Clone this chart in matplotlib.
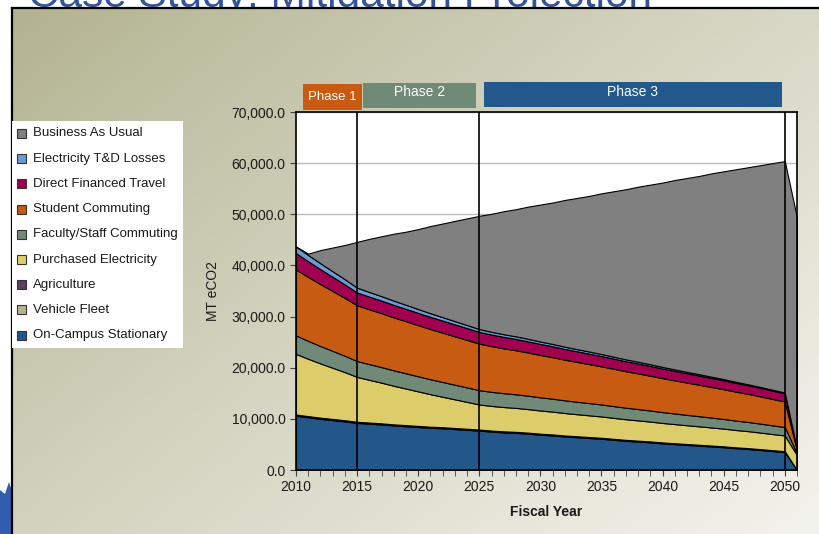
import numpy as np
import matplotlib
matplotlib.use("Agg")
import matplotlib.pyplot as plt
from matplotlib.patches import Rectangle, Polygon
from matplotlib.ticker import FuncFormatter, MultipleLocator

plt.rcParams['font.family'] = ['Liberation Sans', 'DejaVu Sans']

# ---- data (MT eCO2 per fiscal year, 2010-2051) ----
years = list(range(2010, 2052))

on_campus = [10600, 10300, 10000, 9750, 9500, 9200, 9050, 8900, 8700, 8550,
             8400, 8250, 8150, 8000, 7850, 7700, 7500, 7350, 7250, 7100,
             6900, 6750, 6550, 6400, 6250, 6100, 5900, 5700, 5550, 5400,
             5200, 5050, 4900, 4750, 4600, 4450, 4250, 4100, 3900, 3700,
             3500, 0]
vehicle_fleet = [180, 180, 175, 175, 170, 170, 170, 165, 165, 165,
                 160, 160, 160, 155, 155, 155, 150, 150, 150, 145,
                 145, 145, 140, 140, 140, 135, 135, 135, 130, 130,
                 130, 125, 125, 125, 125, 120, 120, 120, 120, 120,
                 120, 0]
agriculture = [60, 60, 60, 60, 60, 60, 60, 60, 60, 60,
               60, 60, 60, 60, 60, 60, 60, 60, 60, 60,
               60, 60, 60, 60, 60, 60, 60, 60, 60, 60,
               60, 60, 60, 60, 60, 60, 60, 60, 60, 60,
               60, 0]
purchased_elec = [11860, 11200, 10600, 10000, 9400, 8770, 8350, 7950, 7550, 7150,
                  6750, 6350, 5950, 5600, 5250, 4890, 4820, 4750, 4680, 4600,
                  4530, 4460, 4390, 4310, 4240, 4170, 4100, 4030, 3960, 3880,
                  3810, 3740, 3670, 3600, 3530, 3460, 3390, 3320, 3240, 3150,
                  3070, 2900]
faculty_staff = [3600, 3500, 3400, 3300, 3200, 3100, 3070, 3040, 3010, 2980,
                 2950, 2920, 2890, 2860, 2830, 2800, 2750, 2710, 2660, 2620,
                 2570, 2530, 2480, 2430, 2390, 2340, 2300, 2250, 2210, 2160,
                 2120, 2070, 2020, 1980, 1930, 1890, 1840, 1790, 1750, 1700,
                 1650, 300]
student = [12900, 12500, 12100, 11700, 11300, 10900, 10720, 10540, 10360, 10180,
           10000, 9820, 9640, 9460, 9280, 9100, 8940, 8770, 8610, 8440,
           8280, 8120, 7950, 7790, 7620, 7460, 7300, 7130, 6970, 6800,
           6640, 6480, 6310, 6150, 5980, 5820, 5660, 5490, 5330, 5160,
           5000, 600]
travel = [3200, 3060, 2920, 2780, 2640, 2500, 2480, 2460, 2440, 2420,
          2400, 2380, 2360, 2340, 2320, 2300, 2270, 2240, 2220, 2190,
          2160, 2130, 2100, 2080, 2050, 2020, 1990, 1960, 1940, 1910,
          1880, 1850, 1820, 1800, 1770, 1740, 1710, 1680, 1660, 1630,
          1600, 200]
td_losses = [1300, 1230, 1160, 1090, 1020, 950, 910, 870, 830, 790,
             750, 710, 670, 630, 590, 550, 530, 520, 500, 490,
             470, 450, 440, 420, 410, 390, 370, 360, 340, 330,
             310, 290, 280, 260, 250, 230, 210, 200, 180, 170,
             150, 50]
# business-as-usual total emissions
bau_total = [43700, 42300, 43000, 43500, 44000, 44600, 45200, 45700, 46200, 46600,
             47100, 47700, 48200, 48700, 49200, 49700, 50100, 50600, 51000, 51500,
             51900, 52300, 52800, 53200, 53600, 54100, 54500, 54900, 55400, 55800,
             56200, 56700, 57100, 57500, 58000, 58400, 58800, 59200, 59600, 60000,
             60400, 49300]

labels = ["On-Campus Stationary", "Vehicle Fleet", "Agriculture",
          "Purchased Electricity", "Faculty/Staff Commuting", "Student Commuting",
          "Direct Financed Travel", "Electricity T&D Losses", "Business As Usual"]
colors = ["#23578A", "#B3B48D", "#5E3C5C", "#DDCD6A", "#718A78",
          "#C75B12", "#A0004F", "#6B9BD1", "#808080"]

phases = ["Phase 1", "Phase 2", "Phase 3"]
phase_colors = ["#C85A12", "#718A78", "#23588C"]
phase_lines = [2015, 2025, 2050]

layers = [on_campus, vehicle_fleet, agriculture, purchased_elec, faculty_staff,
          student, travel, td_losses]
stack_top = np.sum(np.array(layers), axis=0)
bau_gap = np.clip(np.array(bau_total) - stack_top, 0, None)

W, H = 820, 534
fig = plt.figure(figsize=(W / 100, H / 100), dpi=100)
fig.patch.set_facecolor("white")

def fx(px):
    return px / W

def fy(py):
    return 1 - py / H

# slide title (mostly cut off at the top)
fig.text(fx(28), fy(7.5), "Case Study: Mitigation Projection", fontsize=30.5,
         color="#34549A", va="baseline", ha="left", zorder=0.5)

# gradient slide background with border
bg = fig.add_axes([fx(12), 0, 1 - fx(12), fy(8)], zorder=1)
gx, gy = np.meshgrid(np.linspace(0, 1, 300), np.linspace(0, 1, 200))
t = np.clip(0.55 * gx + 0.45 * gy, 0, 1) ** 0.9
c0 = np.array([178, 178, 144]) / 255
c1 = np.array([243, 243, 237]) / 255
img = c0[None, None, :] * (1 - t[..., None]) + c1[None, None, :] * t[..., None]
bg.imshow(img, aspect="auto", extent=[0, 1, 1, 0])
bg.set_xlim(0, 1)
bg.set_ylim(1, 0)
bg.set_xticks([])
bg.set_yticks([])
for s in ["right", "bottom"]:
    bg.spines[s].set_visible(False)
for s in ["left", "top"]:
    bg.spines[s].set_linewidth(1.6)
    bg.spines[s].set_color("black")

# bits of the logo peeking in at the bottom left
fig.patches.append(Polygon([(fx(0), fy(534)), (fx(0), fy(490)), (fx(5), fy(494)),
                            (fx(9), fy(482)), (fx(11), fy(488)), (fx(11), fy(534))],
                           closed=True, transform=fig.transFigure,
                           facecolor="#2F5DB0", edgecolor="none", zorder=0.6))

# main chart
ax = fig.add_axes([fx(296), fy(470), fx(797 - 296), (470 - 112) / H], zorder=2)
ax.set_facecolor("white")
ax.set_axisbelow(True)
ax.yaxis.grid(True, color="#BDBDBD", linewidth=1)

ax.stackplot(years, *layers, bau_gap, colors=colors,
             edgecolor="black", linewidth=0.8)

for yr in phase_lines:
    ax.axvline(yr, color="black", linewidth=1.2, zorder=5)

ax.set_xlim(2010, 2051)
ax.set_ylim(0, 70000)
ax.yaxis.set_major_locator(MultipleLocator(10000))
ax.yaxis.set_major_formatter(FuncFormatter(lambda v, p: f"{v:,.1f}"))
ax.xaxis.set_major_locator(MultipleLocator(5))
ax.xaxis.set_minor_locator(MultipleLocator(1))
ax.tick_params(axis="both", which="both", direction="out", length=4,
               color="#404040", labelsize=10, labelcolor="#1a1a1a")
ax.tick_params(axis="x", pad=3)
for s in ax.spines.values():
    s.set_color("black")
    s.set_linewidth(1.2)

ax.set_ylabel("MT eCO2", fontsize=10, color="#1a1a1a", labelpad=8)
ax.set_xlabel("Fiscal Year", fontsize=10, fontweight="bold", color="#1a1a1a",
              labelpad=8)

# phase banners above the plot
boxes = [(303, 362, 84, 110), (363, 476, 83, 108), (484, 782, 82, 107)]
for name, col, (x0, x1, y0, y1) in zip(phases, phase_colors, boxes):
    fig.patches.append(Rectangle((fx(x0), fy(y1)), fx(x1 - x0), (y1 - y0) / H,
                                 transform=fig.transFigure, facecolor=col,
                                 edgecolor="none", zorder=3))
    ty = (y0 + y1) / 2 + (0 if name == "Phase 1" else -3)
    fig.text(fx((x0 + x1) / 2), fy(ty), name, color="white",
             fontsize=9.5 if name == "Phase 1" else 10, ha="center",
             va="center", zorder=4)

# legend box
fig.patches.append(Rectangle((fx(12), fy(348)), fx(183 - 12), (348 - 121) / H,
                             transform=fig.transFigure, facecolor="white",
                             edgecolor="none", zorder=3))
for i, (lab, col) in enumerate(zip(labels[::-1], colors[::-1])):
    yc = 133.5 + i * 25.2
    fig.patches.append(Rectangle((fx(17), fy(yc + 4.5)), fx(9), 9 / H,
                                 transform=fig.transFigure, facecolor=col,
                                 edgecolor="#333333", linewidth=0.8, zorder=4))
    fig.text(fx(33), fy(yc), lab, fontsize=9.5, color="#1a1a1a",
             ha="left", va="center", zorder=4)

fig.savefig("out.png", dpi=100)
